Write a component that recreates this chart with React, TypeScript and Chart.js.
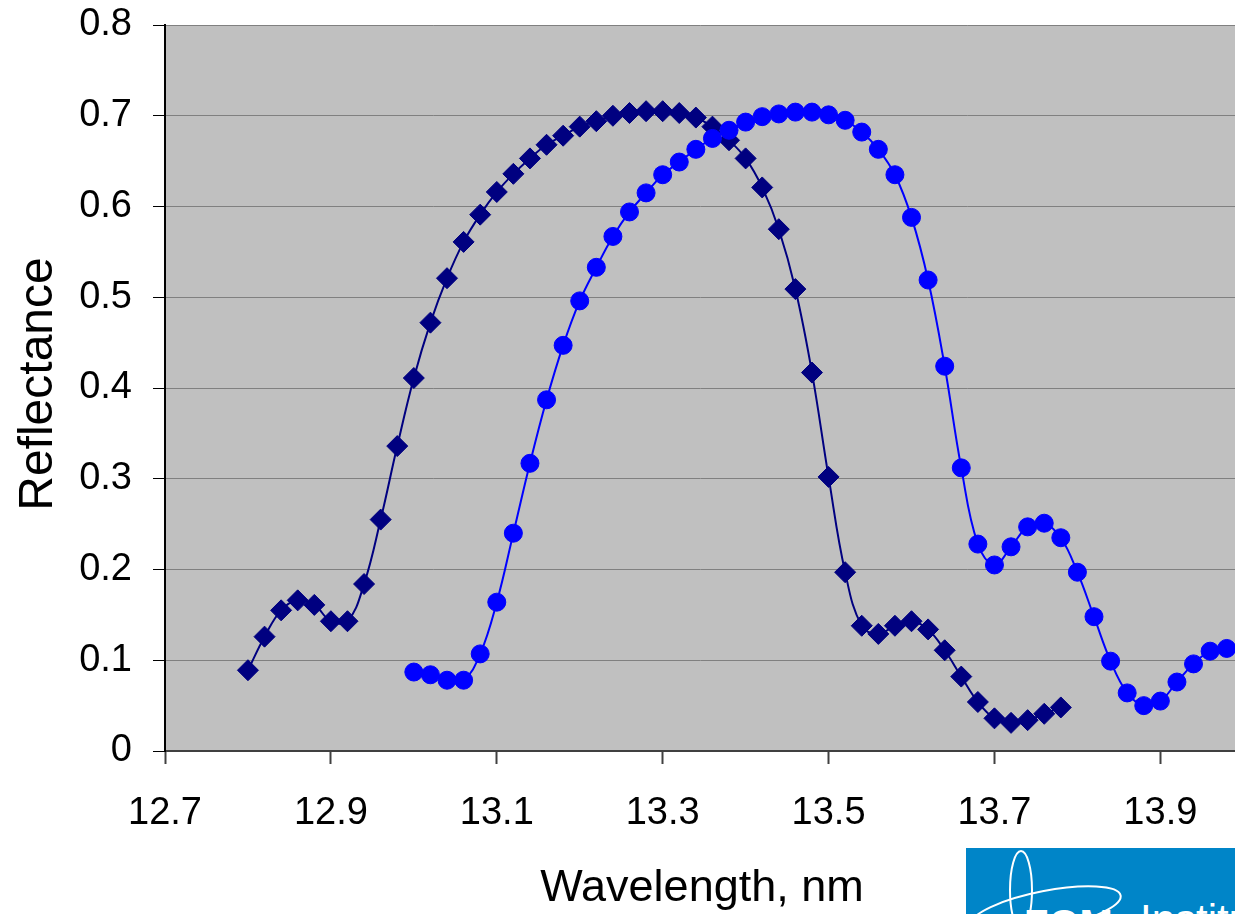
import React, { useEffect, useRef } from "react";
import { Chart, registerables } from "chart.js";

Chart.register(...registerables);

// Wavelength grid (nm) for each measured curve
const wavelengthsA: number[] = [
  12.8, 12.82, 12.84, 12.86, 12.88, 12.9, 12.92, 12.94, 12.96, 12.98,
  13.0, 13.02, 13.04, 13.06, 13.08, 13.1, 13.12, 13.14, 13.16, 13.18,
  13.2, 13.22, 13.24, 13.26, 13.28, 13.3, 13.32, 13.34, 13.36, 13.38,
  13.4, 13.42, 13.44, 13.46, 13.48, 13.5, 13.52, 13.54, 13.56, 13.58,
  13.6, 13.62, 13.64, 13.66, 13.68, 13.7, 13.72, 13.74, 13.76, 13.78,
];
const reflectanceA: number[] = [
  0.089, 0.126, 0.155, 0.166, 0.161, 0.143, 0.143, 0.184, 0.255, 0.336,
  0.411, 0.472, 0.521, 0.561, 0.591, 0.616, 0.636, 0.653, 0.668, 0.678,
  0.688, 0.694, 0.7, 0.703, 0.705, 0.705, 0.703, 0.698, 0.688, 0.673,
  0.653, 0.621, 0.575, 0.509, 0.417, 0.302, 0.197, 0.138, 0.129, 0.138,
  0.143, 0.134, 0.111, 0.082, 0.054, 0.036, 0.031, 0.034, 0.041, 0.048,
];

const wavelengthsB: number[] = [
  13.0, 13.02, 13.04, 13.06, 13.08, 13.1, 13.12, 13.14, 13.16, 13.18,
  13.2, 13.22, 13.24, 13.26, 13.28, 13.3, 13.32, 13.34, 13.36, 13.38,
  13.4, 13.42, 13.44, 13.46, 13.48, 13.5, 13.52, 13.54, 13.56, 13.58,
  13.6, 13.62, 13.64, 13.66, 13.68, 13.7, 13.72, 13.74, 13.76, 13.78,
  13.8, 13.82, 13.84, 13.86, 13.88, 13.9, 13.92, 13.94, 13.96, 13.98,
];
const reflectanceB: number[] = [
  0.087, 0.084, 0.078, 0.078, 0.107, 0.164, 0.24, 0.317, 0.387, 0.447,
  0.496, 0.533, 0.567, 0.594, 0.615, 0.635, 0.649, 0.663, 0.675, 0.684,
  0.693, 0.699, 0.702, 0.704, 0.704, 0.701, 0.695, 0.682, 0.663, 0.635,
  0.588, 0.519, 0.424, 0.312, 0.228, 0.205, 0.225, 0.247, 0.251, 0.235,
  0.197, 0.148, 0.099, 0.064, 0.05, 0.055, 0.076, 0.096, 0.11, 0.113,
];

const xTickValues: number[] = [12.7, 12.9, 13.1, 13.3, 13.5, 13.7, 13.9];
const xMin = 12.7;
const xMax = 13.99;
const yMin = 0;
const yMax = 0.8;
const yStep = 0.1;

const xTitle = "Wavelength, nm";
const yTitle = "Reflectance";

const FONT = '"Liberation Sans", Arial, sans-serif';

const toPoints = (xs: number[], ys: number[]) =>
  xs.map((x, i) => ({ x, y: ys[i] }));

// Grey plot background plus the two axis titles
const framePlugin = {
  id: "frame",
  beforeDraw(chart: any) {
    const { ctx, chartArea } = chart;
    ctx.save();
    ctx.fillStyle = "#C0C0C0";
    ctx.fillRect(
      chartArea.left,
      chartArea.top,
      chartArea.right - chartArea.left,
      chartArea.bottom - chartArea.top
    );
    ctx.restore();
  },
  afterDraw(chart: any) {
    const { ctx, chartArea } = chart;
    ctx.save();
    ctx.fillStyle = "#000";
    ctx.textAlign = "center";
    ctx.textBaseline = "alphabetic";
    ctx.font = `45px ${FONT}`;
    ctx.fillText(xTitle, (chartArea.left + chartArea.right) / 2 + 2, 901);
    ctx.translate(52, 384);
    ctx.rotate(-Math.PI / 2);
    ctx.font = `48px ${FONT}`;
    ctx.fillText(yTitle, 0, 0);
    ctx.restore();
  },
};

export default function App() {
  const canvasRef = useRef<HTMLCanvasElement | null>(null);

  useEffect(() => {
    if (!canvasRef.current) return;
    const chart = new Chart(canvasRef.current, {
      type: "line",
      data: {
        datasets: [
          {
            label: "A",
            data: toPoints(wavelengthsA, reflectanceA),
            borderColor: "#000080",
            backgroundColor: "#000080",
            borderWidth: 2,
            pointStyle: "rectRot",
            pointRadius: 10.5,
            pointBorderWidth: 1,
            pointBorderColor: "#000080",
            pointBackgroundColor: "#000080",
            tension: 0.4,
            fill: false,
            order: 1,
          },
          {
            label: "B",
            data: toPoints(wavelengthsB, reflectanceB),
            borderColor: "#0000FF",
            backgroundColor: "#0000FF",
            borderWidth: 2,
            pointStyle: "circle",
            pointRadius: 9,
            pointBorderWidth: 1,
            pointBorderColor: "#0000FF",
            pointBackgroundColor: "#0000FF",
            tension: 0.4,
            fill: false,
            order: 0,
          },
        ],
      },
      options: {
        animation: false,
        responsive: false,
        maintainAspectRatio: false,
        layout: {
          autoPadding: false,
          padding: { top: 25, right: 0, left: 0, bottom: 0 },
        },
        plugins: {
          legend: { display: false },
          tooltip: { enabled: false },
          title: { display: false },
        },
        scales: {
          x: {
            type: "linear",
            min: xMin,
            max: xMax,
            afterBuildTicks(scale: any) {
              scale.ticks = xTickValues.map((v) => ({ value: v }));
            },
            afterFit(scale: any) {
              scale.height = 163;
              scale.paddingLeft = 0;
              scale.paddingRight = 0;
            },
            ticks: {
              color: "#000",
              font: { family: FONT, size: 38 },
              padding: 27,
              maxRotation: 0,
              autoSkip: false,
              callback: (v: any) => Number(v).toFixed(1),
            },
            grid: {
              drawOnChartArea: false,
              drawTicks: true,
              tickLength: 13,
              tickColor: "#404040",
              tickWidth: 2,
            },
            border: { color: "#404040", width: 2 },
          },
          y: {
            type: "linear",
            min: yMin,
            max: yMax,
            afterFit(scale: any) {
              scale.width = 165;
              scale.paddingTop = 0;
              scale.paddingBottom = 0;
            },
            ticks: {
              stepSize: yStep,
              color: "#000",
              font: { family: FONT, size: 38 },
              padding: 21,
              callback: (v: any) => (Number(v) === 0 ? "0" : Number(v).toFixed(1)),
            },
            grid: {
              color: "#808080",
              lineWidth: 1,
              drawTicks: true,
              tickLength: 12,
              tickColor: "#000",
            },
            border: { color: "#000", width: 2 },
          },
        },
      },
      plugins: [framePlugin],
    });
    return () => chart.destroy();
  }, []);

  return (
    <div
      style={{
        position: "absolute",
        left: 0,
        top: 0,
        width: 1235,
        height: 914,
        overflow: "hidden",
        background: "#fff",
      }}
    >
      <canvas ref={canvasRef} width={1235} height={914} />
      <svg
        width={269}
        height={66}
        style={{ position: "absolute", left: 966, top: 848 }}
      >
        <rect x={0} y={0} width={269} height={66} fill="#0085C8" />
        <ellipse cx={55} cy={42} rx={11} ry={39} fill="none" stroke="#fff" strokeWidth={2} />
        <ellipse
          cx={80}
          cy={62}
          rx={76}
          ry={19}
          fill="none"
          stroke="#fff"
          strokeWidth={2}
          transform="rotate(-11 80 62)"
        />
        <text
          x={58}
          y={90}
          fill="#fff"
          fontFamily={FONT}
          fontWeight="bold"
          fontSize={40}
        >
          FOM
        </text>
        <text x={174} y={86} fill="#fff" fontFamily={FONT} fontSize={42}>
          Instituut
        </text>
      </svg>
    </div>
  );
}
